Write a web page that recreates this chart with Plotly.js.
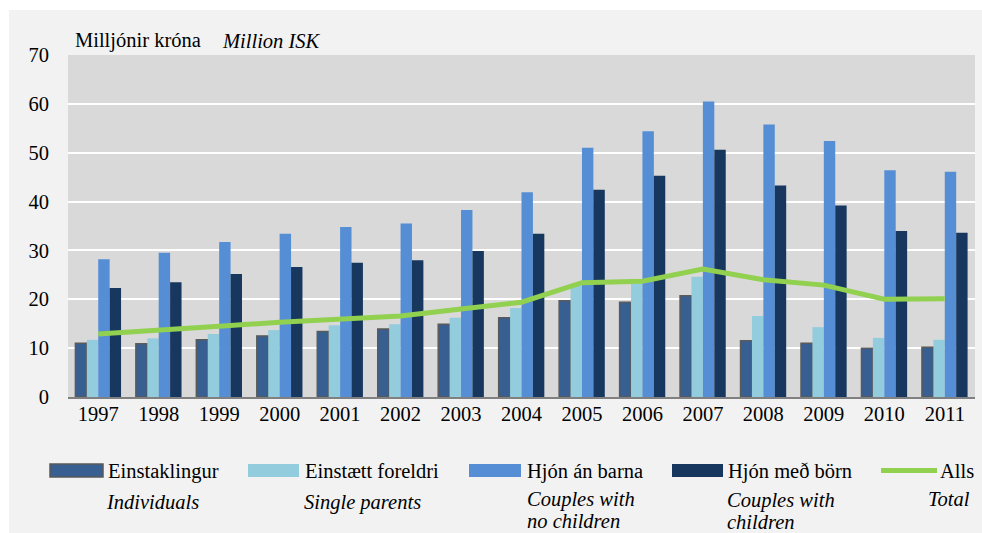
<!DOCTYPE html>
<html>
<head>
<meta charset="utf-8">
<script src="https://cdn.plot.ly/plotly-3.0.1.min.js"></script>
<style>
  html, body { margin: 0; padding: 0; background: #ffffff; }
  #chart { position: absolute; left: 9px; top: 10px; width: 973px; height: 523px; }
</style>
</head>
<body>
<div id="chart"></div>
<script>
// ---- Data ----
const years = ['1997','1998','1999','2000','2001','2002','2003','2004','2005','2006','2007','2008','2009','2010','2011'];
const individuals   = [11.0, 10.9, 11.7, 12.5, 13.4, 13.9, 14.9, 16.2, 19.7, 19.4, 20.7, 11.5, 11.0, 10.0, 10.2];
const singleParents = [11.7, 12.0, 12.9, 13.7, 14.7, 14.9, 16.2, 18.2, 22.8, 23.3, 24.6, 16.6, 14.3, 12.1, 11.7];
const couplesNoKids = [28.2, 29.5, 31.7, 33.4, 34.8, 35.5, 38.3, 41.9, 51.0, 54.4, 60.5, 55.8, 52.4, 46.4, 46.1];
const couplesKids   = [22.3, 23.5, 25.2, 26.6, 27.5, 28.0, 29.9, 33.4, 42.4, 45.3, 50.6, 43.3, 39.2, 34.0, 33.6];
const total         = [12.9, 13.6, 14.5, 15.3, 15.9, 16.6, 18.0, 19.4, 23.4, 23.7, 26.2, 24.0, 22.9, 20.0, 20.1];
const yTicks = [0, 10, 20, 30, 40, 50, 60, 70];

const seriesNames = ['Einstaklingur', 'Einstætt foreldri', 'Hjón án barna', 'Hjón með börn', 'Alls'];
const seriesNamesEn = [['Individuals'], ['Single parents'], ['Couples with', 'no children'], ['Couples with', 'children'], ['Total']];
const titleIs = 'Milljónir króna';
const titleEn = 'Million ISK';

// ---- Styles ----
const colors = ['#375f92', '#93cddd', '#558ed5', '#17375e', '#92d050'];
const FONT = '"Liberation Serif", "Times New Roman", Times, serif';
const FS = 20.5;

// plot area in page pixels, div offset
const OFFX = 9, OFFY = 10;
const L = 68, R = 975, T = 55, B = 397;
const px = x => (x - L) / (R - L);
const py = y => (B - y) / (B - T);

const barSeries = [individuals, singleParents, couplesNoKids, couplesKids];
const traces = barSeries.map((vals, i) => ({
  type: 'bar',
  x: years,
  y: vals,
  name: seriesNames[i],
  marker: {
    color: colors[i],
    line: i === 0 ? {color: '#5a5a5a', width: 1.5} : {color: colors[i], width: 0}
  },
  hoverinfo: 'x+y+name'
}));
traces.push({
  type: 'scatter',
  mode: 'lines',
  x: years,
  y: total,
  name: seriesNames[4],
  line: {color: colors[4], width: 5}
});

// ---- Custom legend ----
const shapes = [];
const annotations = [];
const legendItems = [
  {sx0: 50, sx1: 103, tx: 108, ex: 106, ey: [502]},
  {sx0: 248, sx1: 299, tx: 305, ex: 304, ey: [502]},
  {sx0: 469, sx1: 521, tx: 527, ex: 527, ey: [499, 521]},
  {sx0: 672, sx1: 723, tx: 728, ex: 727, ey: [500, 522]},
  {sx0: 881, sx1: 937, tx: 940, ex: 928, ey: [499]}
];
legendItems.forEach((it, i) => {
  if (i < 4) {
    shapes.push({
      type: 'rect', xref: 'paper', yref: 'paper',
      x0: px(it.sx0), x1: px(it.sx1), y0: py(477), y1: py(464),
      fillcolor: colors[i],
      line: i === 0 ? {color: '#5a5a5a', width: 1.5} : {width: 0}
    });
  } else {
    shapes.push({
      type: 'line', xref: 'paper', yref: 'paper',
      x0: px(it.sx0), x1: px(it.sx1), y0: py(470.5), y1: py(470.5),
      line: {color: colors[i], width: 5}
    });
  }
  annotations.push({
    xref: 'paper', yref: 'paper', x: px(it.tx - 2), y: py(471),
    xanchor: 'left', yanchor: 'middle', showarrow: false,
    text: seriesNames[i], font: {family: FONT, size: FS, color: '#000'}
  });
  seriesNamesEn[i].forEach((line, j) => {
    annotations.push({
      xref: 'paper', yref: 'paper', x: px(it.ex - 2), y: py(it.ey[j]),
      xanchor: 'left', yanchor: 'middle', showarrow: false,
      text: '<i>' + line + '</i>', font: {family: FONT, size: FS, color: '#000'}
    });
  });
});

// axis title annotations
annotations.push({
  xref: 'paper', yref: 'paper', x: px(73), y: py(41),
  xanchor: 'left', yanchor: 'middle', showarrow: false,
  text: titleIs, font: {family: FONT, size: FS, color: '#000'}
});
annotations.push({
  xref: 'paper', yref: 'paper', x: px(220), y: py(41),
  xanchor: 'left', yanchor: 'middle', showarrow: false,
  text: '<i>' + titleEn + '</i>', font: {family: FONT, size: FS, color: '#000'}
});

const layout = {
  width: 973, height: 523,
  margin: {l: L - OFFX, r: (OFFX + 973) - R, t: T - OFFY, b: (OFFY + 523) - B, pad: 0},
  paper_bgcolor: '#f2f2f2',
  plot_bgcolor: '#d9d9d9',
  barmode: 'group',
  bargap: 0.245,
  bargroupgap: 0,
  showlegend: false,
  font: {family: FONT, size: FS, color: '#000'},
  xaxis: {
    type: 'category',
    showgrid: false,
    showline: true, linecolor: '#808080', linewidth: 2,
    ticks: '', tickfont: {family: FONT, size: FS, color: '#000'},
    ticklabelstandoff: -3,
    fixedrange: true
  },
  yaxis: {
    range: [0, 70],
    tickvals: yTicks,
    ticktext: yTicks.map(String),
    showgrid: true, gridcolor: '#ffffff', gridwidth: 2,
    zeroline: false, showline: false,
    ticks: '', tickfont: {family: FONT, size: FS, color: '#000'},
    ticklabelstandoff: 18,
    fixedrange: true
  },
  shapes: shapes,
  annotations: annotations
};

Plotly.newPlot('chart', traces, layout, {displayModeBar: false, staticPlot: true});
</script>
</body>
</html>
